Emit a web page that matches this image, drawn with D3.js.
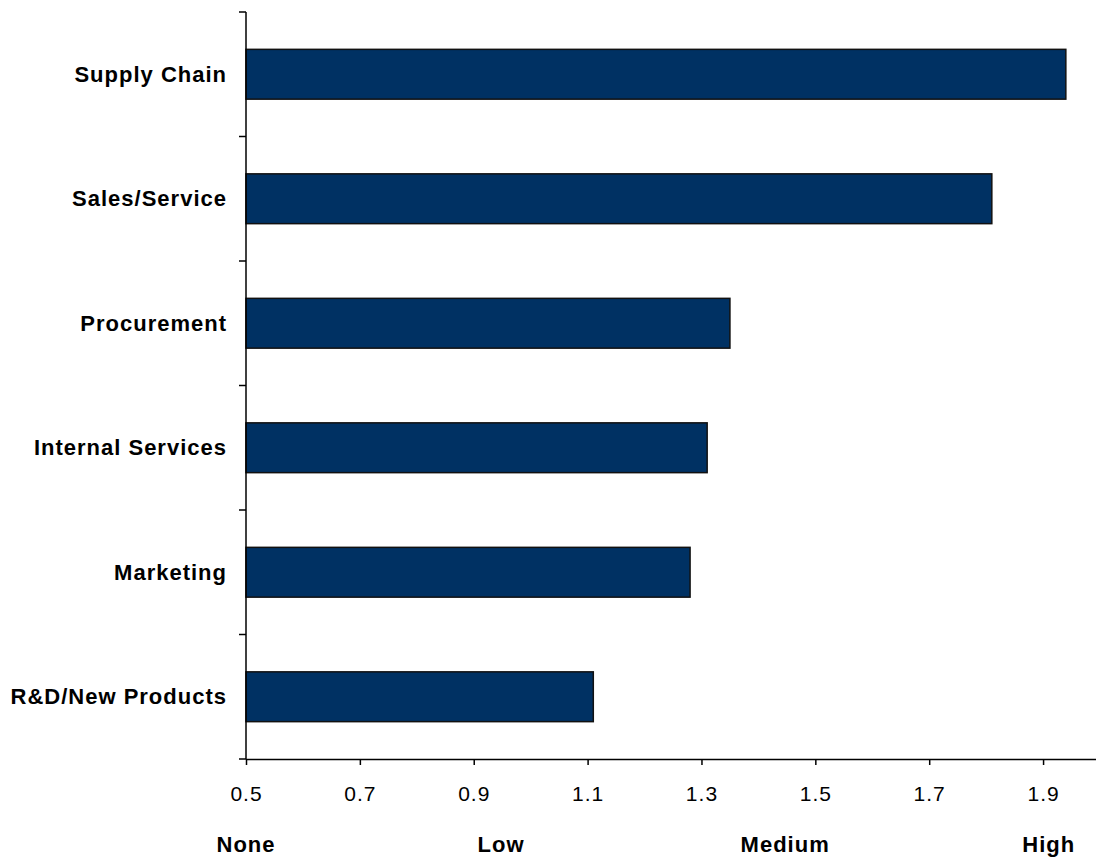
<!DOCTYPE html>
<html>
<head>
<meta charset="utf-8">
<script src="https://cdn.jsdelivr.net/npm/d3@7"></script>
<style>
  html, body { margin: 0; padding: 0; background: #fff; }
  svg { display: block; font-family: "Liberation Sans", Arial, sans-serif; }
</style>
</head>
<body>
<svg id="chart" width="1096" height="860"></svg>
<script>
// Functional areas, listed top to bottom
const categories = ["Supply Chain", "Sales/Service", "Procurement", "Internal Services", "Marketing", "R&D/New Products"];
// Average rating per area
const values = [1.94, 1.81, 1.35, 1.31, 1.28, 1.11];
// Numeric tick labels on the value axis
const tickValues = [0.5, 0.7, 0.9, 1.1, 1.3, 1.5, 1.7, 1.9];
// Qualitative scale words under the axis and where they sit on it
const levelLabels = ["None", "Low", "Medium", "High"];
const levelPositions = [0.5, 0.948, 1.447, 1.91];

const svg = d3.select("#chart");
const plotLeft = 246, plotTop = 12, plotBottom = 759, plotRight = 1100;

const x = d3.scaleLinear().domain([0.5, 2.0]).range([plotLeft, plotRight]);
const y = d3.scaleBand().domain(categories).range([plotTop, plotBottom]).paddingInner(0.6).paddingOuter(0.3);

// Bars
svg.append("g").selectAll("rect")
  .data(values)
  .join("rect")
  .attr("x", x(0.5))
  .attr("y", (d, i) => y(categories[i]))
  .attr("width", d => x(d) - x(0.5))
  .attr("height", y.bandwidth())
  .attr("fill", "#003163")
  .attr("stroke", "#111")
  .attr("stroke-width", 1.5);

// Category axis: ticks sit between the bands
const bandStep = (plotBottom - plotTop) / categories.length;
const yAxis = svg.append("g").attr("transform", `translate(${plotLeft},0)`);
yAxis.append("line").attr("x1", 0).attr("x2", 0).attr("y1", plotTop).attr("y2", plotBottom)
  .attr("stroke", "#000").attr("stroke-width", 1.5);
yAxis.selectAll("line.sep")
  .data(d3.range(categories.length + 1))
  .join("line").attr("class", "sep")
  .attr("x1", -7).attr("x2", 0)
  .attr("y1", i => plotTop + i * bandStep).attr("y2", i => plotTop + i * bandStep)
  .attr("stroke", "#000").attr("stroke-width", 1.5);
yAxis.selectAll("text")
  .data(categories)
  .join("text")
  .attr("x", -19)
  .attr("y", d => y(d) + y.bandwidth() / 2)
  .attr("dy", "0.35em")
  .attr("text-anchor", "end")
  .attr("font-size", 22)
  .attr("font-weight", "bold")
  .attr("letter-spacing", 1)
  .attr("fill", "#000")
  .text(d => d);

// Value axis
const xAxis = svg.append("g")
  .attr("transform", `translate(0,${plotBottom})`)
  .call(d3.axisBottom(x).tickValues(tickValues).tickFormat(d3.format(".1f")).tickSize(6).tickSizeOuter(0).tickPadding(21));
xAxis.select(".domain").attr("stroke", "#000").attr("stroke-width", 1.5);
xAxis.selectAll(".tick line").attr("stroke", "#000").attr("stroke-width", 1.5);
xAxis.selectAll(".tick text")
  .attr("font-size", 21)
  .attr("font-family", "Liberation Sans, Arial, sans-serif")
  .attr("letter-spacing", 1)
  .attr("fill", "#000");

// Qualitative scale words
svg.append("g").selectAll("text")
  .data(levelLabels)
  .join("text")
  .attr("x", (d, i) => x(levelPositions[i]))
  .attr("y", 852)
  .attr("text-anchor", "middle")
  .attr("font-size", 22)
  .attr("font-weight", "bold")
  .attr("letter-spacing", 1)
  .attr("fill", "#000")
  .text(d => d);
</script>
</body>
</html>
